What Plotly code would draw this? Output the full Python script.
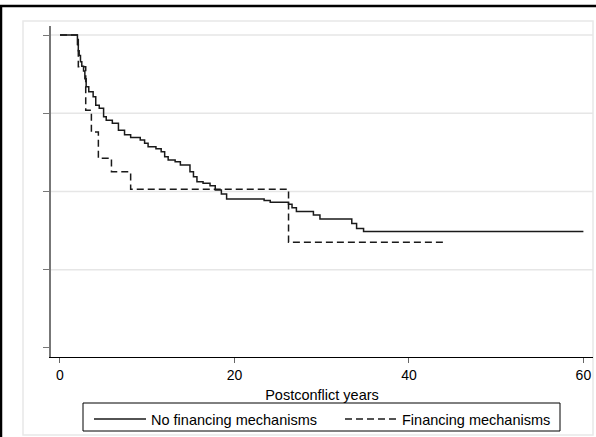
import plotly.graph_objects as go

# Kaplan-Meier step data (time in years, survival proportion)
no_fin_t = [0, 2.0, 2.1, 2.2, 2.35, 2.5, 2.7, 2.85, 3.0, 3.3, 3.8, 4.1, 4.5, 5.0, 5.3, 6.0,
            6.7, 7.4, 8.1, 9.2, 9.7, 10.1, 11.0, 11.6, 12.0, 12.4, 13.2, 13.8, 14.9, 15.3,
            15.7, 16.4, 17.2, 17.8, 18.5, 19.1, 23.4, 24.1, 26.2, 26.6, 27.1, 29.05, 29.8,
            33.45, 34.0, 34.8, 60]
no_fin_s = [1.0, 0.97, 0.95, 0.935, 0.915, 0.90, 0.885, 0.86, 0.835, 0.819, 0.803, 0.776,
            0.766, 0.739, 0.728, 0.718, 0.696, 0.681, 0.673, 0.665, 0.654, 0.643, 0.637,
            0.627, 0.611, 0.601, 0.595, 0.585, 0.563, 0.547, 0.531, 0.526, 0.518, 0.505,
            0.492, 0.476, 0.471, 0.466, 0.459, 0.448, 0.436, 0.425, 0.412, 0.398, 0.382,
            0.372, 0.372]

fin_t = [0, 2.1, 2.95, 3.6, 4.4, 5.9, 8.1, 26.2, 44.2]
fin_s = [1.0, 0.899, 0.760, 0.69, 0.606, 0.563, 0.507, 0.338, 0.338]

x_ticks = [0, 20, 40, 60]
y_ticks = [0, 0.25, 0.5, 0.75, 1.0]
grid_vals = [0.25, 0.5, 0.75, 1.0]

W, H = 596, 437
L, R, T, B = 51, 3, 26, 80
PW, PH = W - L - R, H - T - B


def px(x):
    return (x - L) / PW


def py(y):
    return (H - B - y) / PH


FONT = "Liberation Sans, Arial, sans-serif"

fig = go.Figure()
fig.add_trace(go.Scatter(x=no_fin_t, y=no_fin_s, mode="lines", line_shape="hv",
                         name="No financing mechanisms",
                         line=dict(color="#1a1a1a", width=1.5)))
fig.add_trace(go.Scatter(x=fin_t, y=fin_s, mode="lines", line_shape="hv",
                         name="Financing mechanisms",
                         line=dict(color="#1a1a1a", width=1.5, dash="7px,4px")))

shapes = []
# light grey inner frame (Stata graph region)
shapes.append(dict(type="rect", xref="paper", yref="paper", x0=px(23), x1=px(593),
                   y0=py(435), y1=py(21), line=dict(color="#e8e8e8", width=1.5),
                   fillcolor="rgba(0,0,0,0)", layer="below"))
# black outer frame (top and left)
shapes.append(dict(type="line", xref="paper", yref="paper", x0=px(0), x1=px(596),
                   y0=py(6), y1=py(6), line=dict(color="black", width=2.5)))
shapes.append(dict(type="line", xref="paper", yref="paper", x0=px(1), x1=px(1),
                   y0=py(6), y1=py(437), line=dict(color="black", width=2.5)))
# legend frame
shapes.append(dict(type="rect", xref="paper", yref="paper", x0=px(83), x1=px(560),
                   y0=py(431), y1=py(403), line=dict(color="black", width=1),
                   fillcolor="white", layer="below"))
# horizontal gridlines
for g in grid_vals:
    shapes.append(dict(type="line", xref="paper", yref="y", x0=0, x1=1, y0=g, y1=g,
                       line=dict(color="#e6e6e6", width=1.5), layer="below"))

fig.update_layout(
    width=W, height=H,
    margin=dict(l=L, r=R, t=T, b=B, autoexpand=False),
    paper_bgcolor="white", plot_bgcolor="white",
    font=dict(family=FONT, size=14, color="black"),
    shapes=shapes,
    showlegend=True,
    legend=dict(orientation="h", x=px(89), xanchor="left", y=py(403), yanchor="top",
                borderwidth=0, bgcolor="rgba(0,0,0,0)",
                font=dict(family=FONT, size=14.5, color="black"),
                itemwidth=52, entrywidth=184, tracegroupgap=0),
    xaxis=dict(range=[-1.03, 61.1], tickvals=x_ticks, ticktext=[str(v) for v in x_ticks],
               showgrid=False, zeroline=False, showline=True, linecolor="black",
               linewidth=1.2, ticks="outside", ticklen=5, tickcolor="#666",
               tickwidth=1.2, tickfont=dict(family=FONT, size=14, color="black"),
               title=dict(text="Postconflict years", standoff=7,
                          font=dict(family=FONT, size=14.5, color="black"))),
    yaxis=dict(range=[-0.029, 1.029], tickvals=y_ticks, showticklabels=False,
               showgrid=False, zeroline=False, showline=True, linecolor="#777",
               linewidth=1.5, ticks="outside", ticklen=6, tickcolor="#777",
               tickwidth=1.2),
)

fig.write_html("out.html", config={"displayModeBar": False},
               post_script="document.body.style.margin='0';document.body.style.overflow='hidden';")
